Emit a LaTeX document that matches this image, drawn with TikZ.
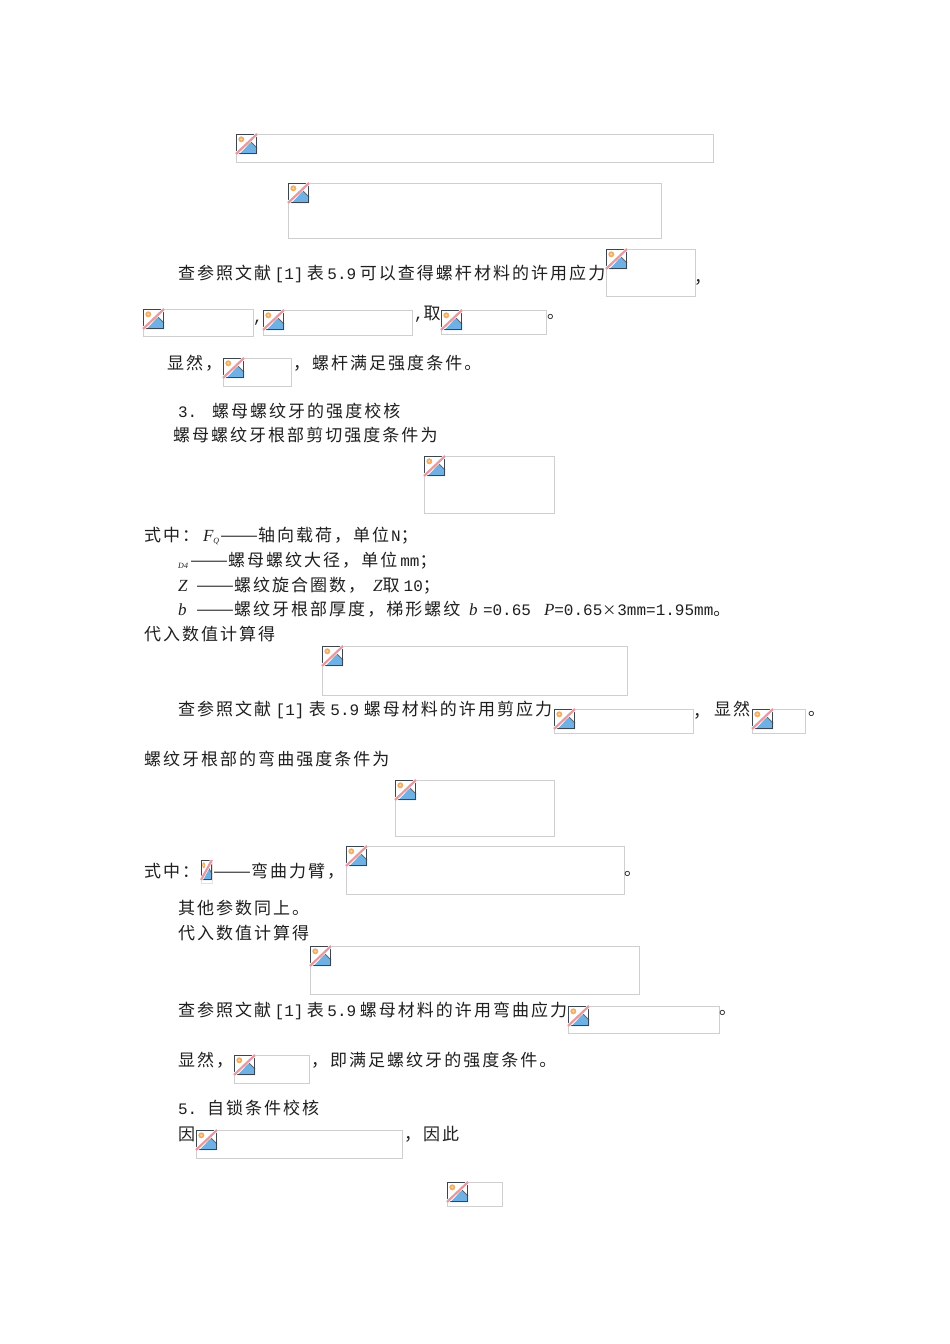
\documentclass[tikz,border=0pt]{standalone}
\usepackage{graphicx}
\usepackage{fontspec}
\setmainfont{Noto Sans CJK SC}[LetterSpace=12]
\newfontfamily\monolat{Liberation Mono}
\newfontfamily\lat{Liberation Serif}[LetterSpace=6]
\definecolor{boxline}{HTML}{CFCFCF}
\definecolor{icodark}{HTML}{3A4550}
\definecolor{icoblue}{HTML}{6FB1E4}
\definecolor{icosun}{HTML}{F0AE63}
\definecolor{icopink}{HTML}{E39AA0}
\tikzset{
  imgbox/.style={draw=boxline,line width=0.9pt,fill=white,inner sep=0pt,outer sep=0pt,anchor=north west},
  txt/.style={anchor=base west,inner sep=0pt,outer sep=0pt,font=\fontsize{17}{17}\selectfont,text=black!88},
}
\newcommand{\drawicon}[3][1]{%
  \begin{scope}[shift={(#2,#3)},xscale=#1]
    \fill[white] (0,0) rectangle (21,20);
    \fill[icoblue] (3.5,20) -- (15,8) -- (21,14) -- (21,20) -- cycle;
    \draw[icodark!80,line width=0.8pt] (6,15.5) -- (15,8) -- (21,14);
    \fill[icosun] (5.3,5.3) circle (3);
    \fill[icosun!50] (5.3,5.3) circle (1.2);
    \draw[icodark,line width=1.4pt] (0.7,0.7) rectangle (20.3,19.3);
    \draw[white,line width=3.4pt] (0,20) -- (21,0);
    \draw[icopink,line width=2.2pt] (0,20) -- (21,0);
  \end{scope}}
\newcommand{\ibox}[5]{%
  \pgfmathsetmacro{\bw}{#4-#2-0.9}\pgfmathsetmacro{\bh}{#5-#3-0.9}%
  \node[imgbox,minimum width=\bw pt,minimum height=\bh pt] (#1) at (#2,#3) {};
  \drawicon{#2}{#3}}
\newcommand{\tl}[4]{\node[txt] (#1) at (#2,#3+6) {#4};}
\newcommand{\la}[1]{{\monolat\fontsize{16}{16}\selectfont #1}}
\newcommand{\lb}[1]{\kern3.5pt\la{#1}\kern3.5pt}
\newcommand{\li}[1]{{\lat\itshape #1}}
\newcommand{\dd}{\resizebox{38pt}{\height}{——}}
\begin{document}
\begin{tikzpicture}[x=1pt,y=-1pt]
\useasboundingbox (0,0) rectangle (950,1344);
\fill[white] (0,0) rectangle (950,1344);
\ibox{b1}{236}{134}{714}{163}
\ibox{b2}{288}{183}{662}{239}
\ibox{b3}{606}{249}{696}{297}
\ibox{b4}{143}{309}{254}{337}
\ibox{b5}{263}{310}{413}{336}
\ibox{b6}{441}{310}{547}{335}
\ibox{b7}{223}{358}{292}{387}
\ibox{b8}{424}{456}{555}{514}
\ibox{b9}{322}{646}{628}{696}
\ibox{b10}{554}{709}{694}{734}
\ibox{b11}{752}{709}{806}{734}
\ibox{b12}{395}{780}{555}{837}
\node[imgbox,draw=boxline!60,minimum width=11pt,minimum height=23pt] (b13) at (201,860) {};
\drawicon[0.52]{201}{860}
\ibox{b14}{346}{846}{625}{895}
\ibox{b15}{310}{946}{640}{995}
\ibox{b16}{568}{1006}{720}{1034}
\ibox{b17}{234}{1055}{310}{1084}
\ibox{b18}{196}{1130}{403}{1159}
\ibox{b19}{447}{1182}{503}{1207}
\tl{t1}{178}{273}{查参照文献\lb{[1]}表\lb{5.9}可以查得螺杆材料的许用应力}
\tl{t2}{694}{277}{，}
\tl{t3}{253}{316}{\la{,}}
\tl{t4}{414}{313}{\la{,}取}
\tl{t5}{547}{312}{。}
\tl{t6}{167}{363}{显然，}
\tl{t7}{293}{363}{，螺杆满足强度条件。}
\tl{t8}{178}{411}{\la{3.}}
\tl{t9}{212}{411}{螺母螺纹牙的强度校核}
\tl{t10}{173}{435}{螺母螺纹牙根部剪切强度条件为}
\tl{t11}{144}{535}{式中：\kern4pt\li{F}\raisebox{-2pt}{\fontsize{8}{8}\selectfont\li{Q}}}
\tl{t12}{220}{535}{\dd 轴向载荷，单位\kern2pt\la{N}；}
\tl{t13}{178}{562}{\fontsize{8}{8}\selectfont\li{D4}}
\tl{t14}{190}{560}{\dd 螺母螺纹大径，单位\kern3pt\la{mm}；}
\tl{t15}{178}{585}{\li{Z}}
\tl{t16}{196}{585}{\dd 螺纹旋合圈数，\kern8pt\li{Z}取\kern4pt\la{10}；}
\tl{t17}{178}{609}{\li{b}}
\tl{t18}{196}{609}{\dd 螺纹牙根部厚度，梯形螺纹}
\tl{t19}{469}{609}{\li{b}}
\tl{t19b}{483}{609}{\la{=0.65}}
\tl{t20}{544}{609}{\li{P}\la{=0.65}{\fontsize{14}{14}\selectfont ×}\kern1pt\la{3mm=1.95mm}。}
\tl{t21}{144}{634}{代入数值计算得}
\tl{t22}{178}{709}{查参照文献\kern4.5pt\la{[1]}\kern4.5pt表\kern4.5pt\la{5.9}\kern4.5pt螺母材料的许用剪应力}
\tl{t23a}{693}{711}{，}
\tl{t23}{714}{709}{显然}
\tl{t24}{808}{709}{。}
\tl{t25}{144}{759}{螺纹牙根部的弯曲强度条件为}
\tl{t26}{144}{871}{式中：}
\tl{t27}{213}{871}{\dd 弯曲力臂，}
\tl{t28}{624}{869}{。}
\tl{t29}{178}{908}{其他参数同上。}
\tl{t30}{178}{933}{代入数值计算得}
\tl{t31}{178}{1010}{查参照文献\lb{[1]}表\lb{5.9}螺母材料的许用弯曲应力}
\tl{t32}{719}{1008}{。}
\tl{t33}{178}{1060}{显然，}
\tl{t34}{311}{1060}{，即满足螺纹牙的强度条件。}
\tl{t35}{178}{1108}{\la{5.}}
\tl{t36}{207}{1108}{自锁条件校核}
\tl{t37}{178}{1134}{因}
\tl{t38}{404}{1134}{，因此}
\end{tikzpicture}
\end{document}
